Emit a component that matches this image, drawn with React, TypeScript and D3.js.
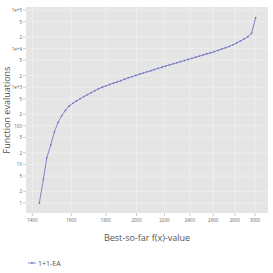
import * as d3 from "d3";

// fixed-target results: best-so-far f(x) target and the evaluations needed to reach it
const targets = [
  1434, 1454, 1471, 1491, 1510, 1529, 1548, 1568, 1588, 1608,
  1628, 1649, 1670, 1691, 1712, 1734, 1756, 1779, 1801, 1824,
  1848, 1871, 1895, 1920, 1944, 1969, 1995, 2020, 2046, 2073,
  2099, 2126, 2154, 2182, 2210, 2238, 2267, 2296, 2326, 2356,
  2386, 2417, 2448, 2479, 2511, 2543, 2576, 2609, 2643, 2677,
  2711, 2746, 2781, 2817, 2853, 2889, 2927, 2964, 3006
];
const evals = [
  1, 4.1, 14.9, 31.8, 70, 123, 182, 252, 326, 383,
  439, 504, 574, 643, 724, 816, 915, 1000, 1087, 1175,
  1270, 1372, 1482, 1611, 1742, 1883, 2023, 2172, 2333, 2506,
  2674, 2874, 3090, 3296, 3540, 3782, 4036, 4315, 4603, 4920,
  5250, 5610, 5985, 6394, 6824, 7330, 7830, 8360, 9030, 9770,
  10550, 11400, 12590, 14060, 15700, 17830, 20330, 24770, 63100
];
const xTicks = [1400, 1600, 1800, 2000, 2200, 2400, 2600, 2800, 3000];
const yTicks = [1, 2, 5, 10, 20, 50, 100, 200, 500, 1000, 2000, 5000, 10000, 20000, 50000, 100000];
const yTickLabels = ["1", "2", "5", "10", "2", "5", "100", "2", "5", "1e+3", "2", "5", "1e+4", "2", "5", "1e+5"];
const seriesName = "1+1-EA";

export default function App() {
  const width = 273;
  const height = 273;
  const left = 26, right = 268, top = 7, bottom = 213;
  const font = "'Open Sans', sans-serif";
  const color = "#7479c4";

  const x = d3.scaleLog().domain([1370, 3136]).range([left, right]);
  const y = d3.scaleLog().domain([0.55, 120000]).range([bottom, top]);

  const data = targets.map((t, i) => ({ t, v: evals[i] }));
  const line = d3.line<{ t: number; v: number }>(d => x(d.t), d => y(d.v));

  return (
    <svg width={width} height={height} style={{ position: "absolute", left: 0, top: 0 }}>
      <rect x={0} y={0} width={width} height={height} fill="white" />
      <rect x={left} y={top} width={right - left} height={bottom - top} fill="#e5e5e5" />
      <g stroke="#f4f4f4" strokeWidth={0.6}>
        {yTicks.map((t, i) => (
          <line key={i} x1={left} x2={right} y1={y(t)} y2={y(t)} />
        ))}
        {xTicks.map((t, i) => (
          <line key={i} x1={x(t)} x2={x(t)} y1={top} y2={bottom} />
        ))}
      </g>
      <g fontFamily={font} fontSize={4.5} fill="#666">
        {yTicks.map((t, i) => (
          <g key={i}>
            <line x1={left - 3} x2={left} y1={y(t)} y2={y(t)} stroke="#999" strokeWidth={0.5} />
            <text x={left - 4} y={y(t)} textAnchor="end" dominantBaseline="central">{yTickLabels[i]}</text>
          </g>
        ))}
        {xTicks.map((t, i) => (
          <g key={i}>
            <line x1={x(t)} x2={x(t)} y1={bottom} y2={bottom + 3} stroke="#999" strokeWidth={0.5} />
            <text x={x(t)} y={bottom + 9} textAnchor="middle">{t}</text>
          </g>
        ))}
      </g>
      <path d={line(data) ?? ""} fill="none" stroke={color} strokeWidth={0.9} />
      <g fill={color}>
        {data.map((d, i) => (
          <circle key={i} cx={x(d.t)} cy={y(d.v)} r={0.9} />
        ))}
      </g>
      <text x={(left + right) / 2} y={241} textAnchor="middle" fontFamily={font} fontSize={9} fill="#555">
        Best-so-far f(x)-value
      </text>
      <text
        transform={`translate(10,${(top + bottom) / 2}) rotate(-90)`}
        textAnchor="middle"
        fontFamily={font}
        fontSize={9}
        fill="#555"
      >
        Function evaluations
      </text>
      <g transform="translate(0,263)">
        <line x1={28} x2={36} y1={0} y2={0} stroke={color} strokeWidth={0.9} />
        <circle cx={32} cy={0} r={0.9} fill={color} />
        <text x={38} y={0} dominantBaseline="central" fontFamily={font} fontSize={7} fill="#555">
          {seriesName}
        </text>
      </g>
    </svg>
  );
}
